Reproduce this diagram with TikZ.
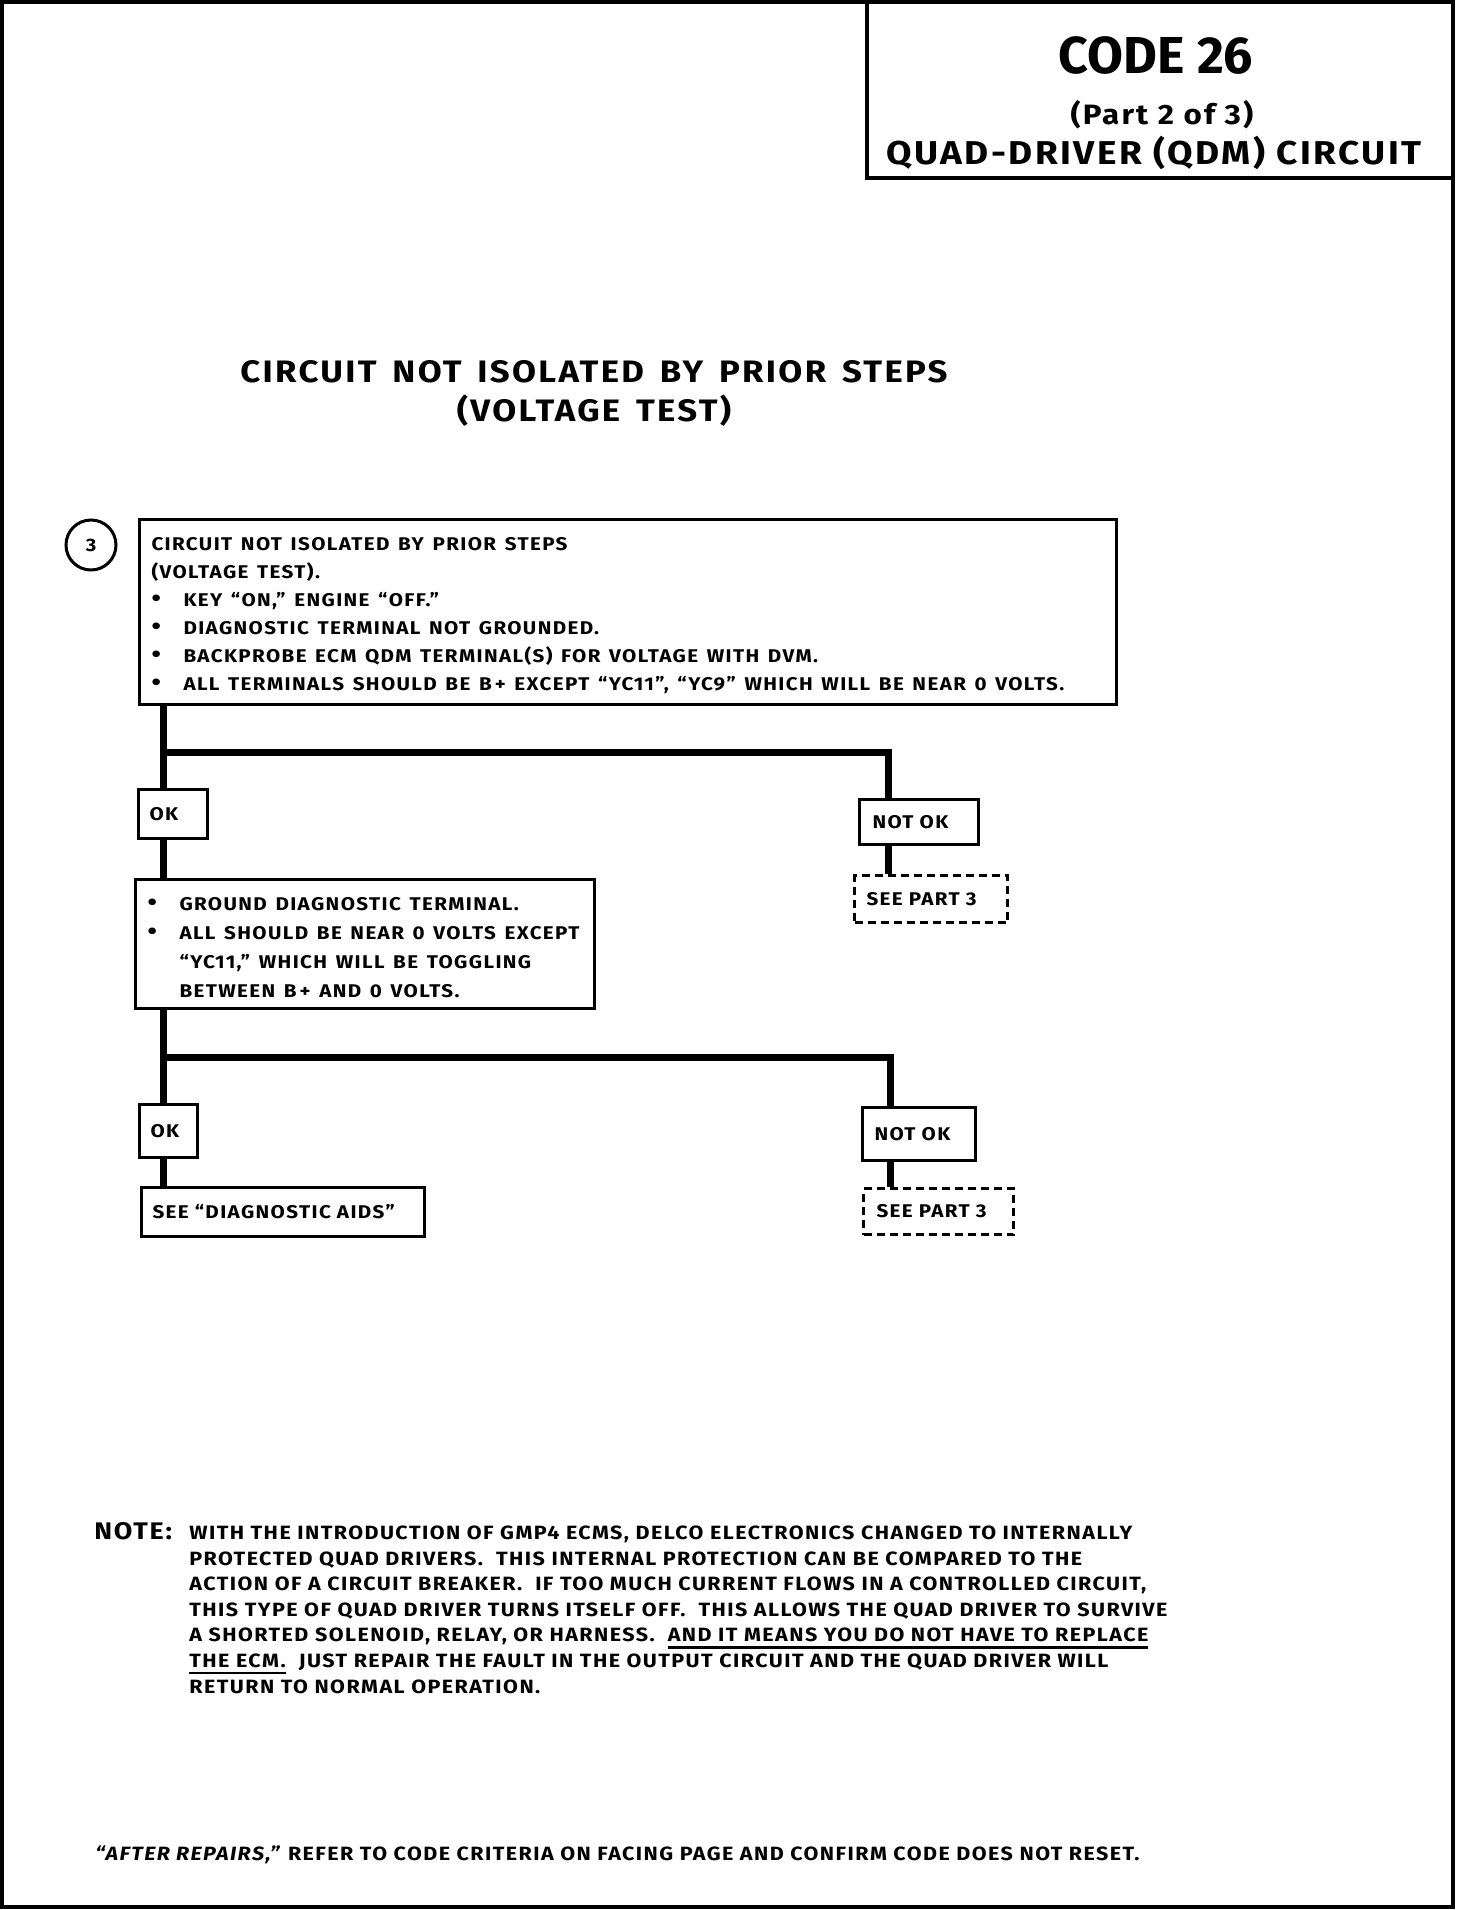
\documentclass[tikz,border=0pt]{standalone}
\usepackage{fontspec}
\setmainfont{Fira Sans}[FakeStretch=1.12, LetterSpace=7.5]
\newfontfamily\titlefont{Fira Sans}
\newfontfamily\widefont{Fira Sans}[FakeStretch=1.12, LetterSpace=7.5, WordSpace=1.5]
\usetikzlibrary{positioning}

\newcommand{\boxfont}{\widefont\fontsize{9.2pt}{14pt}\selectfont\bfseries}
\newcommand{\notefont}{\fontsize{9.6pt}{12.8pt}\selectfont\bfseries}
\newcommand{\bul}[1]{\mbox{\makebox[16pt][l]{\fontsize{12pt}{12pt}\selectfont\textbullet}#1}}
\newcommand{\ind}[1]{\mbox{\hspace{16pt}#1}}
\newcommand{\uln}[1]{\setbox0\hbox{#1}\rlap{\rule[-3.4pt]{\wd0}{1.4pt}}\box0}

\begin{document}
\begin{tikzpicture}[
    x=0.5pt, y=-0.5pt,
    stepbox/.style={draw, line width=1.5pt, anchor=north west, align=left, inner xsep=6pt, inner ysep=0pt, font=\boxfont,
        execute at begin node={\spaceskip=0.47em\xspaceskip=0.6em\relax}},
    tagbox/.style={draw, line width=1.5pt, anchor=north west, align=left, inner xsep=6.5pt, inner ysep=0pt, font=\boxfont},
    seebox/.style={tagbox, dash pattern=on 4pt off 2.5pt},
    flow/.style={line width=3.5pt, line join=miter}
]
    \useasboundingbox (0,0) rectangle (1456,1910);

    % page frame and title block
    \draw[line width=2pt] (2,2) rectangle (1453,1907);
    \draw[line width=2pt] (867,2) -- (867,178) -- (1453,178);
    \node[font=\titlefont\fontsize{26pt}{30pt}\selectfont\bfseries] (code) at (1156,55) {CODE 26};
    \node[font=\fontsize{14pt}{16pt}\selectfont\bfseries] (part) at (1162,115) {(Part 2 of 3)};
    \node[font=\fontsize{16.5pt}{18pt}\selectfont\bfseries] (qdm) at (1154,153) {QUAD-DRIVER (QDM) CIRCUIT};

    % heading
    \node[font=\widefont\fontsize{15.5pt}{19.5pt}\selectfont\bfseries, align=center] (head) at (594,393.5)
        {CIRCUIT NOT ISOLATED BY PRIOR STEPS\\(VOLTAGE TEST)};

    % step 3
    \node[circle, draw, line width=1.5pt, minimum size=25pt, inner sep=0pt, font=\fontsize{9pt}{9pt}\selectfont\bfseries] (num) at (91,545) {3};
    \node[stepbox, text width=476.5pt, minimum height=92.5pt] (volt) at (138,518)
        {\strut CIRCUIT NOT ISOLATED BY PRIOR STEPS\\
         (VOLTAGE TEST).\\
         \bul{KEY “ON,” ENGINE “OFF.”}\\
         \bul{DIAGNOSTIC TERMINAL NOT GROUNDED.}\\
         \bul{BACKPROBE ECM QDM TERMINAL(S) FOR VOLTAGE WITH DVM.}\\
         \bul{ALL TERMINALS SHOULD BE B\,+ EXCEPT “YC11”, “YC9” WHICH WILL BE NEAR 0 VOLTS.}};

    % first result
    \coordinate (forkA) at (163,752);
    \coordinate (forkAr) at (888,752);
    \node[tagbox, inner xsep=5.5pt, text width=23.5pt, minimum height=24.5pt] (okA) at (137,788) {OK};
    \node[tagbox, inner xsep=6.5pt, text width=46.5pt, minimum height=22.5pt] (nokA) at (858,798) {NOT OK};
    \node[seebox, inner xsep=6pt, text width=64.5pt, minimum height=23.5pt] (partA) at (853,874) {SEE PART 3};
    \node[stepbox, text width=217.5pt, minimum height=64.5pt, font=\widefont\fontsize{9.2pt}{14.5pt}\selectfont\bfseries] (ground) at (134,878)
        {\strut\bul{GROUND DIAGNOSTIC TERMINAL.}\\
         \bul{ALL SHOULD BE NEAR 0 VOLTS EXCEPT}\\
         \ind{“YC11,” WHICH WILL BE TOGGLING}\\
         \ind{BETWEEN B\,+ AND 0 VOLTS.}};

    \draw[flow] (volt.south -| forkA) -- (okA.north -| forkA);
    \draw[flow] (forkA) -- (forkAr) -- (forkAr |- nokA.north);
    \draw[flow] (okA.south -| forkA) -- (ground.north -| forkA);
    \draw[flow] (nokA.south -| forkAr) -- (partA.north -| forkAr);

    % second result
    \coordinate (forkB) at (163,1057);
    \coordinate (forkBr) at (890,1057);
    \node[tagbox, inner xsep=5.5pt, text width=18pt, minimum height=26.5pt] (okB) at (138,1103) {OK};
    \node[tagbox, inner xsep=6pt, text width=44.5pt, minimum height=26.5pt] (nokB) at (861,1106) {NOT OK};
    \node[seebox, text width=62pt, minimum height=23pt] (partB) at (862,1187) {SEE PART 3};
    \node[tagbox, inner xsep=5.5pt, text width=130.5pt, minimum height=24.5pt] (aids) at (140,1186) {SEE “DIAGNOSTIC AIDS”};

    \draw[flow] (ground.south -| forkB) -- (okB.north -| forkB);
    \draw[flow] (forkB) -- (forkBr) -- (forkBr |- nokB.north);
    \draw[flow] (okB.south -| forkB) -- (aids.north -| forkB);
    \draw[flow] (nokB.south -| forkBr) -- (partB.north -| forkBr);

    % note
    \node[anchor=base west, inner sep=0pt, font=\fontsize{12pt}{13pt}\selectfont\bfseries] (note) at (94,1539.5) {NOTE:};
    \node[anchor=north west, align=left, inner sep=0pt, font=\notefont] (notetext) at (189,1525.5)
        {WITH THE INTRODUCTION OF GMP4 ECMS, DELCO ELECTRONICS CHANGED TO INTERNALLY\\
         PROTECTED QUAD DRIVERS.\ \ THIS INTERNAL PROTECTION CAN BE COMPARED TO THE\\
         ACTION OF A CIRCUIT BREAKER.\ \ IF TOO MUCH CURRENT FLOWS IN A CONTROLLED CIRCUIT,\\
         THIS TYPE OF QUAD DRIVER TURNS ITSELF OFF.\ \ THIS ALLOWS THE QUAD DRIVER TO SURVIVE\\
         A SHORTED SOLENOID, RELAY, OR HARNESS.\ \ \uln{AND IT MEANS YOU DO NOT HAVE TO REPLACE}\\
         \uln{THE ECM.}\ \ JUST REPAIR THE FAULT IN THE OUTPUT CIRCUIT AND THE QUAD DRIVER WILL\\
         RETURN TO NORMAL OPERATION.};

    % footer
    \node[anchor=base west, inner sep=0pt, font=\notefont] (after) at (95,1860)
        {\textit{“AFTER REPAIRS,”} REFER TO CODE CRITERIA ON FACING PAGE AND CONFIRM CODE DOES NOT RESET.};
\end{tikzpicture}
\end{document}
